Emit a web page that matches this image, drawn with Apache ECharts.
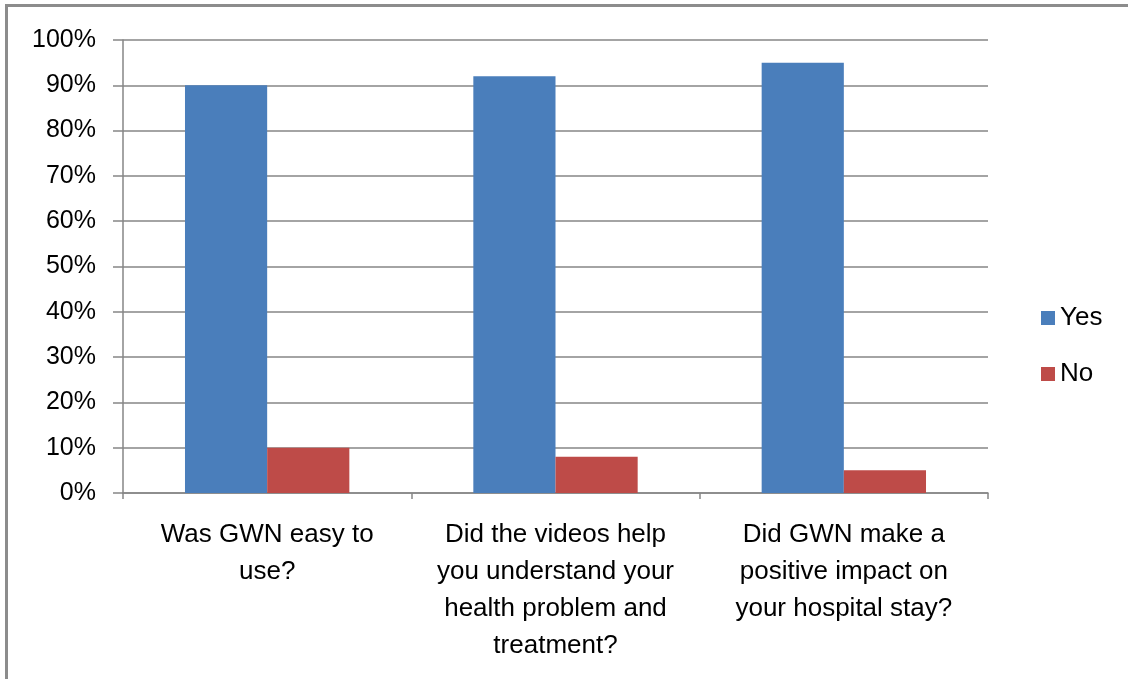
<!DOCTYPE html>
<html>
<head>
    <meta charset="utf-8">
    <title>GWN survey</title>
    <style>
        html, body { margin: 0; padding: 0; background: #fff; }
        #frame {
            position: absolute; left: 5px; top: 4px; right: 0; bottom: 0;
            border-top: 3px solid #8c8c8c; border-left: 3px solid #8c8c8c;
        }
        #chart_main { position: absolute; left: 0; top: 0; width: 1128px; height: 679px; }
    </style>
</head>
<body>
    <div id="frame"></div>
    <div id="chart_main"></div>
    <script src="https://cdn.jsdelivr.net/npm/echarts@6/dist/echarts.min.js"></script>
    <script>
        // 问题 / 数值
        var categories = [
            'Was GWN easy to\nuse?',
            'Did the videos help\nyou understand your\nhealth problem and\ntreatment?',
            'Did GWN make a\npositive impact on\nyour hospital stay?'
        ];
        var yesValues = [90, 92, 95];
        var noValues = [10, 8, 5];
        var yTicks = [0, 10, 20, 30, 40, 50, 60, 70, 80, 90, 100];

        var font = '"Liberation Sans", Arial, sans-serif';
        var myChart = echarts.init(document.getElementById('chart_main'), null, { renderer: 'canvas' });

        var option = {
            animation: false,
            textStyle: { fontFamily: font },
            grid: { left: 123, right: 140, top: 40, bottom: 186, containLabel: false },
            legend: {
                orient: 'vertical',
                left: 1036,
                top: 300,
                itemWidth: 14,
                itemHeight: 14,
                itemGap: 30,
                icon: 'rect',
                textStyle: { fontSize: 26, color: '#000', fontFamily: font, padding: [0, 0, 0, 0] },
                data: ['Yes', 'No']
            },
            xAxis: {
                type: 'category',
                data: categories,
                axisLine: { lineStyle: { color: '#868686', width: 1.5 } },
                axisTick: { show: true, length: 6, alignWithLabel: false, lineStyle: { color: '#868686', width: 1.5 } },
                axisLabel: {
                    interval: 0, margin: 23, color: '#000', fontSize: 26, lineHeight: 37,
                    fontFamily: font, align: 'center'
                }
            },
            yAxis: {
                type: 'value',
                min: 0, max: 100, interval: 10,
                axisLine: { show: true, lineStyle: { color: '#868686', width: 1.5 } },
                axisTick: { show: true, length: 10, inside: false, lineStyle: { color: '#868686', width: 1.5 } },
                splitLine: { lineStyle: { color: '#868686', width: 1.5 } },
                axisLabel: {
                    margin: 27, color: '#000', fontSize: 25, fontFamily: font,
                    formatter: function (v) { return yTicks.indexOf(v) >= 0 ? v + '%' : ''; }
                }
            },
            series: [
                {
                    name: 'Yes', type: 'bar', data: yesValues,
                    barGap: '0%', barCategoryGap: '43%',
                    itemStyle: { color: '#4A7EBB' }
                },
                {
                    name: 'No', type: 'bar', data: noValues,
                    itemStyle: { color: '#BE4B48' }
                }
            ]
        };
        myChart.setOption(option);
    </script>
</body>
</html>
